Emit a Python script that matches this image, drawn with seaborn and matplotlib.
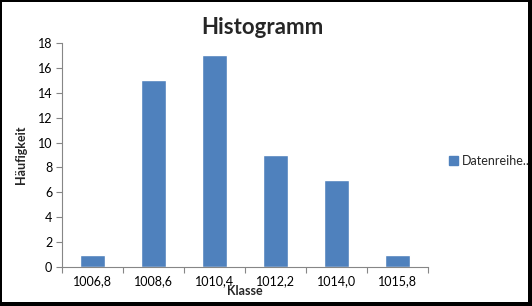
import matplotlib
matplotlib.use("Agg")
import matplotlib.pyplot as plt
import seaborn as sns
import pandas as pd
from matplotlib.patches import Patch, Rectangle
from matplotlib.ticker import FixedLocator

klassen = ["1006,8", "1008,6", "1010,4", "1012,2", "1014,0", "1015,8"]
haeufigkeit = [1, 15, 17, 9, 7, 1]
serie = "Datenreihe.."

sns.set_theme(style="white")
plt.rcParams['font.family'] = ['Lato', 'DejaVu Sans']

df = pd.DataFrame({"Klasse": klassen, "Häufigkeit": haeufigkeit})

W, H = 532, 306
fig = plt.figure(figsize=(W/100, H/100), dpi=100)
ax = fig.add_axes([62/W, 1-267/H, 366/W, 224/H])
color = "#4F81BD"
sns.barplot(data=df, x="Klasse", y="Häufigkeit", color=color, width=0.4,
            saturation=1, ax=ax)

ax.set_ylim(0, 18)
ax.set_yticks(range(0, 19, 2))
ax.set_xlim(-0.5, len(klassen) - 0.5)
ax.xaxis.set_minor_locator(FixedLocator([i - 0.5 for i in range(len(klassen) + 1)]))
ax.tick_params(axis="x", which="major", length=0, labelsize=9, pad=6, colors="black")
ax.tick_params(axis="x", which="minor", length=4, width=0.8, color="#868686", direction="out")
ax.tick_params(axis="y", length=4, width=0.8, color="#868686", direction="out", labelsize=9, pad=3, labelcolor="black")
ax.tick_params(axis="both", bottom=True, left=True, which="both")
for s in ["top", "right"]:
    ax.spines[s].set_visible(False)
for s in ["left", "bottom"]:
    ax.spines[s].set_color("#868686")
    ax.spines[s].set_linewidth(0.8)

ax.set_xlabel("Klasse", fontsize=9, fontweight="bold", labelpad=-2)
ax.set_ylabel("Häufigkeit", fontsize=9, fontweight="bold", labelpad=8)

fig.text(262/W, 1-28/H, "Histogramm", ha="center", va="center",
         fontsize=16, fontweight="bold")

fig.legend(handles=[Patch(facecolor=color, edgecolor=color, label=serie)],
           loc="center left", bbox_to_anchor=(449/W, 1-161/H), frameon=False,
           fontsize=9, handlelength=0.7, handleheight=0.7, handletextpad=0.3,
           borderpad=0, borderaxespad=0)

# black frame: thin on left/top, thicker on right/bottom
frames = [(0, 0, 2, H), (0, H-2, W, 2), (W-4, 0, 4, H), (0, 0, W, 4)]
for (x, y, w, h) in frames:
    fig.patches.append(Rectangle((x/W, y/H), w/W, h/H, transform=fig.transFigure,
                                 facecolor="black", edgecolor="none", zorder=10))

fig.savefig("out.png", dpi=100)
